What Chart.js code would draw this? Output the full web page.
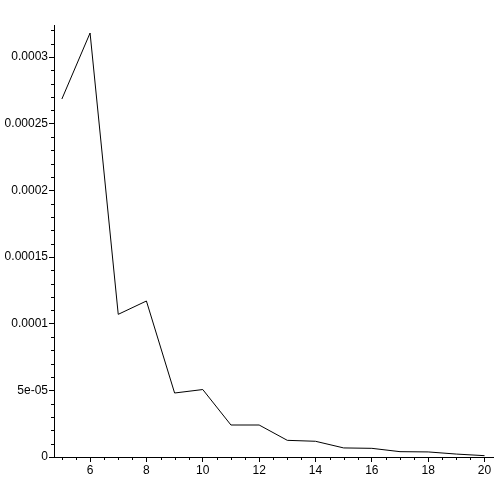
<!DOCTYPE html>
<html>
<head>
<meta charset="utf-8">
<script src="https://cdn.jsdelivr.net/npm/chart.js@4"></script>
<style>
  html, body { margin: 0; padding: 0; background: #fff; }
  #wrap { width: 497px; height: 497px; }
</style>
</head>
<body>
<div id="wrap"><canvas id="chart" width="497" height="497"></canvas></div>
<script>
// --- Datos ---
const xValues = [5, 6, 7, 8, 9, 10, 11, 12, 13, 14, 15, 16, 17, 18, 19, 20];
const yValues = [2.685e-4, 3.18e-4, 1.07e-4, 1.17e-4, 4.8e-5, 5.06e-5, 2.4e-5, 2.4e-5,
                 1.25e-5, 1.18e-5, 6.8e-6, 6.5e-6, 4.0e-6, 3.8e-6, 2.2e-6, 1.0e-6];
const xTickValues = [6, 8, 10, 12, 14, 16, 18, 20];
const yTickValues = [0, 5e-5, 1e-4, 1.5e-4, 2e-4, 2.5e-4, 3e-4];
const yTickLabels = ['0', '5e-05', '0.0001', '0.00015', '0.0002', '0.00025', '0.0003'];

// Marcas menores (estilo Maple)
const minorTicks = {
    id: 'minorTicks',
    afterDraw(chart) {
        const { ctx, scales: { x, y } } = chart;
        ctx.save();
        ctx.strokeStyle = '#000';
        ctx.lineWidth = 1;
        ctx.beginPath();
        for (let i = 0; i <= 32; i++) {
            if (i % 5 === 0) continue;
            const py = Math.round(y.getPixelForValue(i * 1e-5)) + 0.5;
            ctx.moveTo(x.left - 3, py);
            ctx.lineTo(x.left, py);
        }
        for (let i = 10; i <= 40; i++) {
            if (i % 4 === 0) continue;
            const px = Math.round(x.getPixelForValue(i / 2)) + 0.5;
            ctx.moveTo(px, y.bottom);
            ctx.lineTo(px, y.bottom + 3);
        }
        ctx.stroke();
        ctx.restore();
    }
};

const tickFont = { family: 'Liberation Sans, Arial, sans-serif', size: 12 };

new Chart(document.getElementById('chart').getContext('2d'), {
    type: 'line',
    data: {
        datasets: [{
            data: xValues.map((v, i) => ({ x: v, y: yValues[i] })),
            borderColor: '#000',
            borderWidth: 1,
            pointRadius: 0,
            tension: 0,
            fill: false
        }]
    },
    options: {
        responsive: false,
        animation: false,
        layout: { padding: { top: 25, right: 4, left: 0, bottom: 0 } },
        plugins: { legend: { display: false }, tooltip: { enabled: false } },
        scales: {
            x: {
                type: 'linear',
                min: 4.72,
                max: 20.3,
                afterBuildTicks: s => { s.ticks = xTickValues.map(v => ({ value: v })); },
                afterFit: s => { s.height = 40; },
                grid: { drawOnChartArea: false, color: '#000', tickLength: 5 },
                border: { display: true, color: '#000' },
                ticks: { color: '#000', font: tickFont, padding: 1, maxRotation: 0 }
            },
            y: {
                type: 'linear',
                min: 0,
                max: 3.24e-4,
                afterBuildTicks: s => { s.ticks = yTickValues.map(v => ({ value: v })); },
                afterFit: s => { s.width = 54; },
                grid: { drawOnChartArea: false, color: '#000', tickLength: 5 },
                border: { display: true, color: '#000' },
                ticks: {
                    color: '#000', font: tickFont, padding: 1,
                    callback: (v) => yTickLabels[yTickValues.indexOf(v)]
                }
            }
        }
    },
    plugins: [minorTicks]
});
</script>
</body>
</html>
